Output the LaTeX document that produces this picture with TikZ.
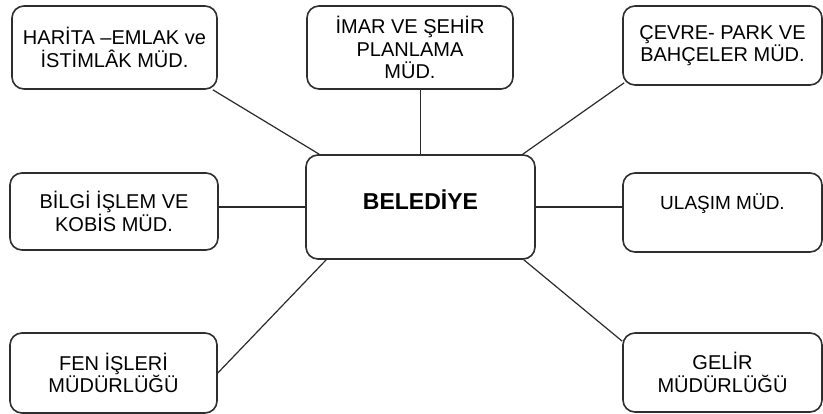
\documentclass[tikz,border=0pt]{standalone}
\usepackage{fontspec}
\setmainfont{Liberation Sans}
\usepackage{xcolor}
\usepackage{tikz}
\usetikzlibrary{calc,positioning}
\definecolor{edgex}{HTML}{2E2E2E}
\definecolor{linex}{HTML}{2A2A2A}
\tikzset{
  box/.style={draw=edgex,line width=1.6pt,rounded corners=12pt,fill=white,align=center,
    inner sep=2pt,font=\fontsize{20}{22.5}\selectfont},
  mainbox/.style={box,font=\fontsize{23}{26}\selectfont\bfseries},
  ln/.style={linex,line width=1.2pt}
}
\begin{document}
\begin{tikzpicture}[x=1pt,y=-1pt]
\useasboundingbox (0,0) rectangle (823,414);
% center
\node[mainbox,minimum width=229pt,minimum height=104pt,text depth=14pt] (beled) at (420.5,207) {BELEDİYE};
% top row
\node[box,minimum width=205pt,minimum height=83pt] (harita) at (114.5,47.5) {HARİTA –EMLAK ve\\İSTİMLÂK MÜD.};
\node[box,minimum width=206pt,minimum height=83pt] (imar) at (410,47.5) {İMAR VE ŞEHİR\\PLANLAMA\\MÜD.};
\node[box,minimum width=199pt,minimum height=79pt] (cevre) at (722.5,45.5) {ÇEVRE- PARK VE\\BAHÇELER MÜD.};
% middle row
\node[box,minimum width=208pt,minimum height=77pt] (bilgi) at (114,211.5) {BİLGİ İŞLEM VE\\KOBİS MÜD.};
\node[box,minimum width=199pt,minimum height=79pt,text depth=22pt,font=\fontsize{19}{22.5}\selectfont] (ulasim) at (722.5,212.5) {ULAŞIM MÜD.};
% bottom row
\node[box,minimum width=207pt,minimum height=80pt] (fen) at (113.5,373) {FEN İŞLERİ\\MÜDÜRLÜĞÜ};
\node[box,minimum width=199pt,minimum height=79pt] (gelir) at (722.5,372.5) {GELİR\\MÜDÜRLÜĞÜ};
% connectors
\draw[ln] ([xshift=-5pt]harita.south east) -- ([xshift=14pt]beled.north west);
\draw[ln] (beled.north |- imar.south) -- (beled.north);
\draw[ln] ([xshift=2pt,yshift=3pt]cevre.south west) -- ([xshift=-13pt]beled.north east);
\draw[ln] (beled.west) -- (beled.west -| bilgi.east);
\draw[ln] (beled.east) -- (beled.east -| ulasim.west);
\draw[ln] (fen.east) -- ([xshift=21pt]beled.south west);
\draw[ln] ([yshift=-9pt]gelir.north west) -- ([xshift=-12pt]beled.south east);
\end{tikzpicture}
\end{document}
